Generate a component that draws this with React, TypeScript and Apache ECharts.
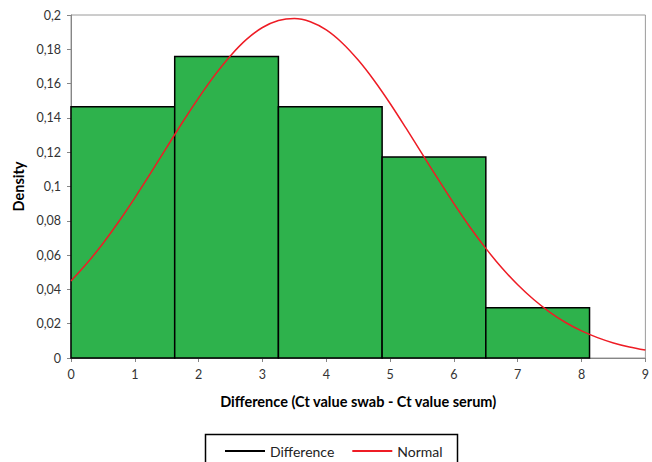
import React, { useEffect, useRef } from "react";
import * as echarts from "echarts";

// Histogram bins (Difference) and density heights
const binEdges = [0, 1.625, 3.25, 4.875, 6.5, 8.125];
const densities = [0.1465, 0.1758, 0.1465, 0.1172, 0.0293];

// Normal curve
const normalX = [
  0, 0.25, 0.5, 0.75, 1, 1.25, 1.5, 1.75, 2, 2.25, 2.5, 2.75, 3, 3.25, 3.5, 3.75, 4, 4.25, 4.5,
  4.75, 5, 5.25, 5.5, 5.75, 6, 6.25, 6.5, 6.75, 7, 7.25, 7.5, 7.75, 8, 8.25, 8.5, 8.75, 9,
];
const normalY = [
  0.0449, 0.0552, 0.0668, 0.0796, 0.0934, 0.1079, 0.1228, 0.1376, 0.1517, 0.1648, 0.1763,
  0.1858, 0.1927, 0.1968, 0.198, 0.1961, 0.1913, 0.1837, 0.1737, 0.1618, 0.1484, 0.134,
  0.1192, 0.1044, 0.09, 0.0764, 0.0639, 0.0526, 0.0427, 0.0341, 0.0268, 0.0207, 0.0158,
  0.0119, 0.0088, 0.0064, 0.0046,
];

const xTicks = { min: 0, max: 9, interval: 1 };
const yTicks = { min: 0, max: 0.2, interval: 0.02 };

const FONT = "Lato";

export default function App() {
  const ref = useRef<HTMLDivElement>(null);
  useEffect(() => {
    if (!ref.current) return;
    const chart = echarts.init(ref.current, null, { renderer: "svg" });
    const histData = densities.map((d, i) => [binEdges[i], binEdges[i + 1], d]);
    const normalData = normalX.map((x, i) => [x, normalY[i]]);
    chart.setOption({
      animation: false,
      textStyle: { fontFamily: FONT },
      grid: {
        left: 71,
        right: 3,
        top: 15,
        bottom: 104,
        show: true,
        borderColor: "#9a9a9a",
        borderWidth: 1,
        backgroundColor: "transparent",
      },
      legend: {
        left: 220,
        top: 439,
        itemWidth: 40,
        itemHeight: 2,
        itemGap: 18,
        textStyle: { fontFamily: FONT, fontSize: 14, color: "#222" },
        data: [
          { name: "Difference", icon: "rect", itemStyle: { color: "#000" } },
          { name: "Normal", icon: "rect", itemStyle: { color: "#ee1c25" } },
        ],
      },
      graphic: [
        {
          type: "rect",
          left: 203,
          top: 432,
          shape: { width: 252, height: 40 },
          style: { fill: "none", stroke: "#000", lineWidth: 1.5 },
        },
      ],
      xAxis: {
        type: "value",
        min: xTicks.min,
        max: xTicks.max,
        interval: xTicks.interval,
        name: "Difference (Ct value swab - Ct value serum)",
        nameLocation: "middle",
        nameGap: 36,
        nameTextStyle: { fontFamily: FONT, fontWeight: "bold", fontSize: 14.5, color: "#000" },
        axisLine: { show: true, lineStyle: { color: "#868686", width: 1 } },
        axisTick: { show: true, length: 4, lineStyle: { color: "#868686" } },
        axisLabel: { margin: 10, fontSize: 12.5, color: "#333", fontFamily: FONT },
        splitLine: { show: false },
      },
      yAxis: {
        type: "value",
        min: yTicks.min,
        max: yTicks.max,
        interval: yTicks.interval,
        name: "Density",
        nameLocation: "middle",
        nameGap: 36,
        nameRotate: 90,
        nameTextStyle: { fontFamily: FONT, fontWeight: "bold", fontSize: 14.5, color: "#000" },
        axisLine: { show: true, lineStyle: { color: "#868686", width: 1 } },
        axisTick: { show: true, length: 4, lineStyle: { color: "#868686" } },
        axisLabel: {
          margin: 10,
          fontSize: 12.5,
          color: "#333",
          fontFamily: FONT,
          formatter: (v: number) => String(Number(v.toFixed(2))).replace(".", ","),
        },
        splitLine: { show: false },
      },
      series: [
        {
          name: "Difference",
          type: "custom",
          z: 2,
          encode: { x: [0, 1], y: 2 },
          data: histData,
          itemStyle: { color: "#000" },
          renderItem: (params: any, api: any) => {
            const p0 = api.coord([api.value(0), 0]);
            const p1 = api.coord([api.value(1), api.value(2)]);
            return {
              type: "rect",
              shape: { x: p0[0], y: p1[1], width: p1[0] - p0[0], height: p0[1] - p1[1] },
              style: { fill: "#2eb24c", stroke: "#000", lineWidth: 1.5 },
            };
          },
        },
        {
          name: "Normal",
          type: "line",
          z: 5,
          smooth: 0.3,
          showSymbol: false,
          symbol: "none",
          data: normalData,
          lineStyle: { color: "#ee1c25", width: 1.5 },
          itemStyle: { color: "#ee1c25" },
        },
      ],
    });
    return () => chart.dispose();
  }, []);
  return (
    <div
      ref={ref}
      style={{ position: "fixed", left: 0, top: 0, width: 652, height: 462, background: "#fff" }}
    />
  );
}
